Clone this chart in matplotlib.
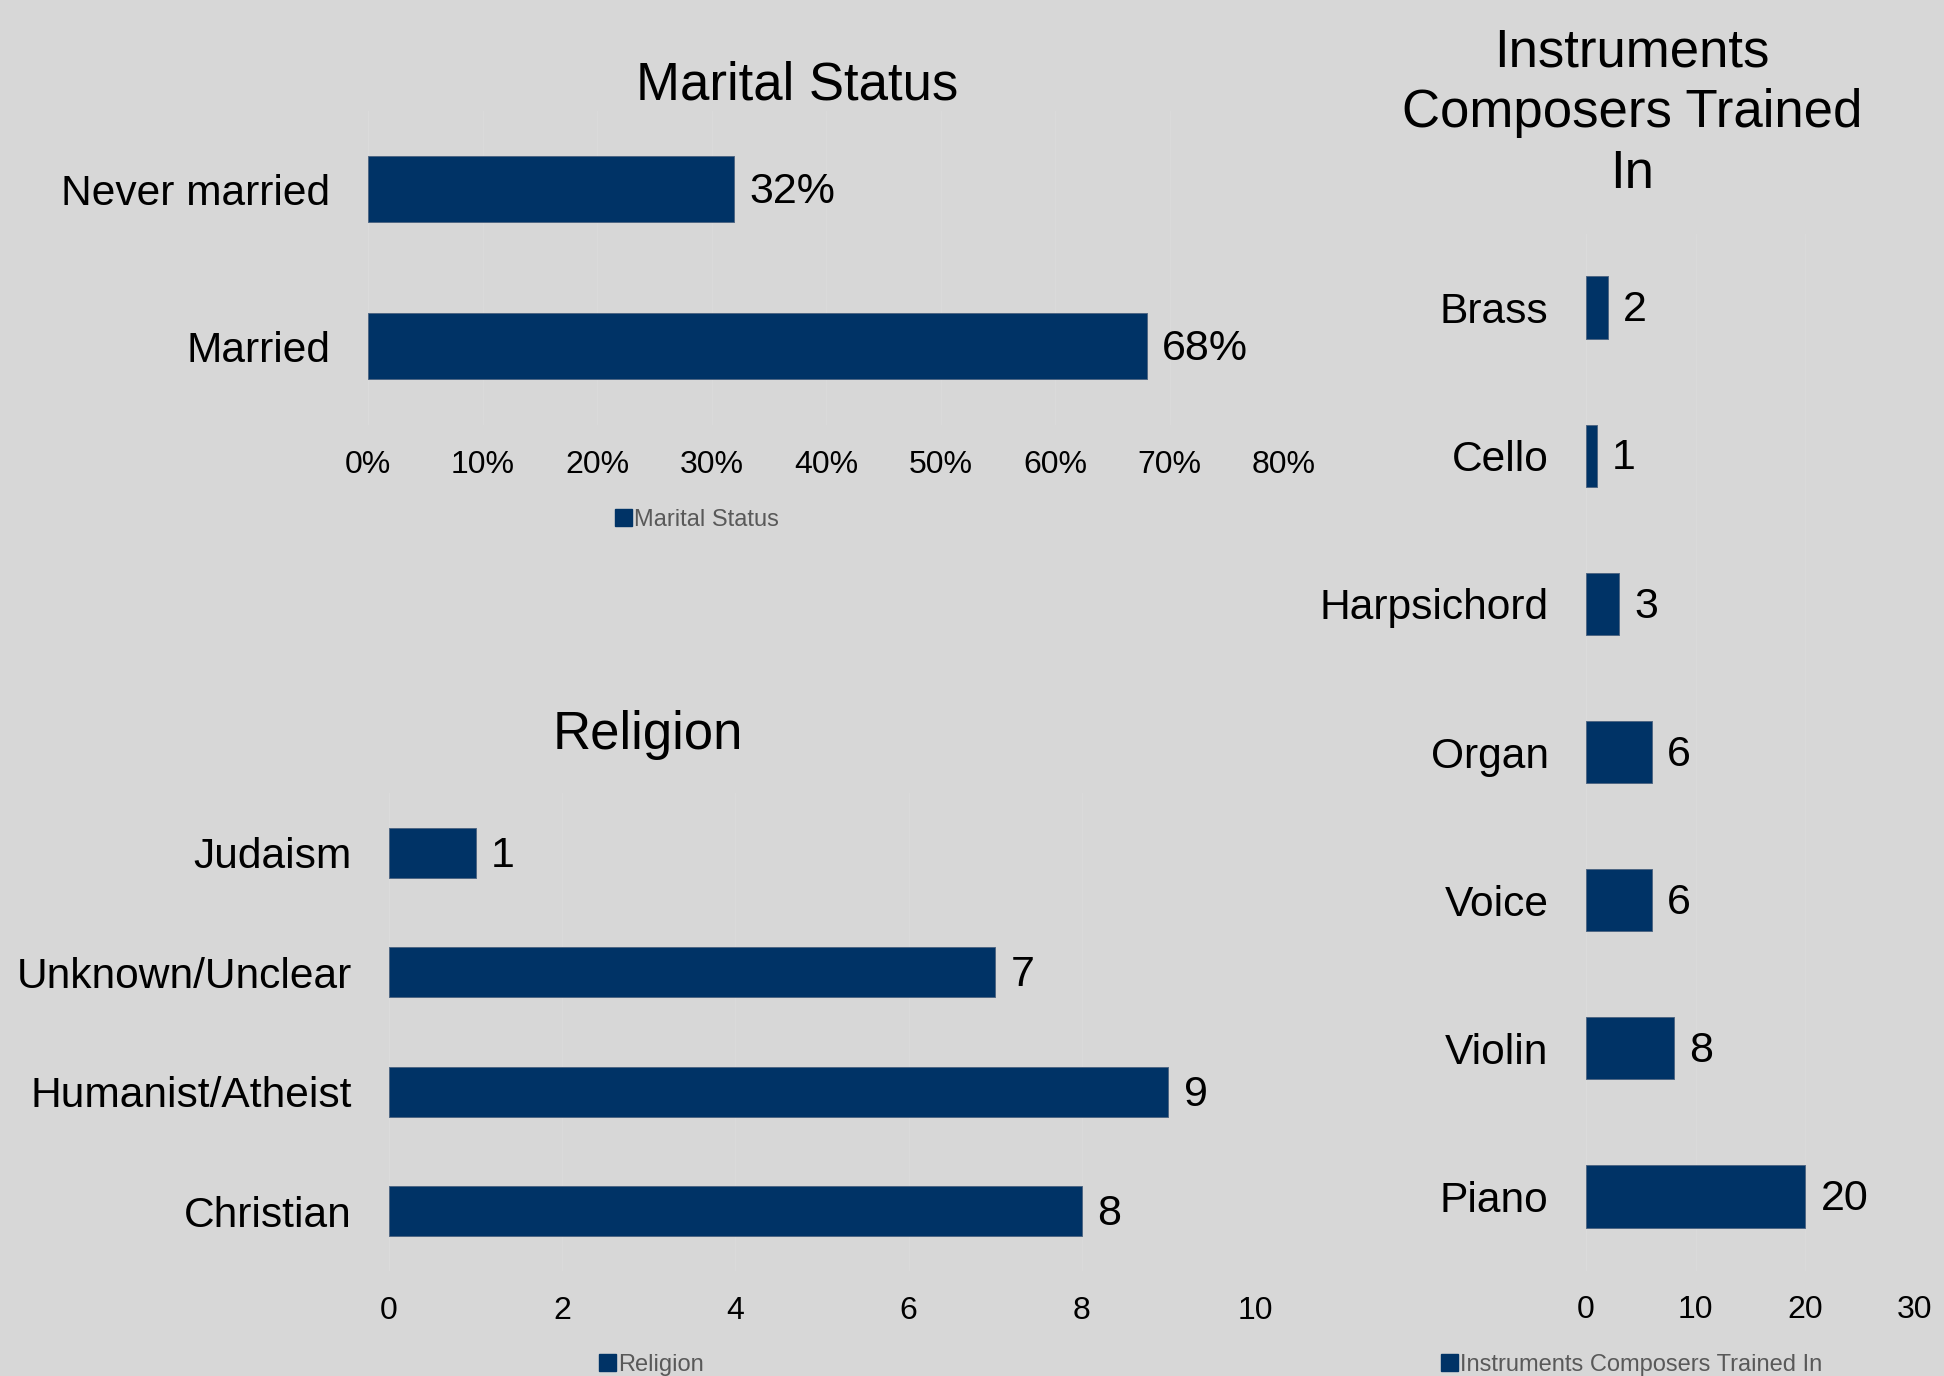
import matplotlib
matplotlib.use("Agg")
import matplotlib.pyplot as plt
from matplotlib.patches import Rectangle
from matplotlib.ticker import FuncFormatter

# ---- data ----
marital_cats = ["Never married", "Married"]
marital_vals = [0.32, 0.68]
marital_ticks = [0, 0.1, 0.2, 0.3, 0.4, 0.5, 0.6, 0.7, 0.8]

religion_cats = ["Judaism", "Unknown/Unclear", "Humanist/Atheist", "Christian"]
religion_vals = [1, 7, 9, 8]
religion_ticks = [0, 2, 4, 6, 8, 10]

instr_cats = ["Brass", "Cello", "Harpsichord", "Organ", "Voice", "Violin", "Piano"]
instr_vals = [2, 1, 3, 6, 6, 8, 20]
instr_ticks = [0, 10, 20, 30]

# ---- style ----
W, H = 1944, 1376
DPI = 100
BG = "#d7d7d7"
BAR = "#003366"
GRID = "#dadada"
FONT = ["Liberation Sans", "DejaVu Sans"]
plt.rcParams["font.family"] = FONT

fig = plt.figure(figsize=(W / DPI, H / DPI), dpi=DPI, facecolor=BG)


def add_ax(left, top, right, bottom):
    return fig.add_axes([left / W, 1 - bottom / H, (right - left) / W, (bottom - top) / H])


def style_bar(ax, cats, vals, ticks, xmax, fmt_label, fmt_tick):
    ax.set_facecolor(BG)
    n = len(cats)
    ypos = list(range(n))
    ax.barh(ypos, vals, height=0.42, color=BAR, edgecolor="#4f6784", linewidth=0.7, zorder=3)
    ax.set_ylim(n - 0.5, -0.5)
    ax.set_xlim(0, xmax)
    ax.set_yticks(ypos)
    ax.set_yticklabels(cats, fontsize=30.6, color="black")
    ax.set_xticks(ticks)
    ax.xaxis.set_major_formatter(FuncFormatter(lambda v, p: fmt_tick(v)))
    ax.tick_params(axis="y", length=0, pad=27)
    ax.tick_params(axis="x", length=0, pad=18, labelsize=23, labelcolor="black")
    for s in ax.spines.values():
        s.set_visible(False)
    ax.axvline(0, color="#dcdcdc", lw=1.2, zorder=2)
    ax.grid(axis="x", color=GRID, lw=1, zorder=0)
    ax.set_axisbelow(True)
    for y, v in zip(ypos, vals):
        ax.annotate(fmt_label(v), (v, y), xytext=(11, -2), textcoords="offset points",
                    ha="left", va="center", fontsize=31, color="black")


def add_legend(ax, label, x_px, y_px):
    h = Rectangle((0, 0), 1, 1, facecolor=BAR, edgecolor=BAR)
    ax.legend([h], [label], loc="center left", bbox_to_anchor=(x_px / W, 1 - y_px / H),
              bbox_transform=fig.transFigure, frameon=False, fontsize=17,
              labelcolor="#595959", handlelength=0.7, handleheight=0.7,
              handletextpad=0.1, borderpad=0, borderaxespad=0)


# Marital Status
ax1 = add_ax(368, 110.5, 1284, 425)
style_bar(ax1, marital_cats, marital_vals, marital_ticks, 0.8,
          lambda v: f"{v:.0%}", lambda v: f"{v:.0%}")
fig.text(797 / W, 1 - 86 / H, "Marital Status", ha="center", va="center", fontsize=38)
add_legend(ax1, "Marital Status", 615, 520)

# Religion
ax2 = add_ax(389, 793, 1255, 1271)
style_bar(ax2, religion_cats, religion_vals, religion_ticks, 10,
          lambda v: f"{v}", lambda v: f"{v:g}")
fig.text(648 / W, 1 - 735 / H, "Religion", ha="center", va="center", fontsize=38)
add_legend(ax2, "Religion", 599, 1365)

# Instruments
ax3 = add_ax(1586, 233.5, 1915, 1270.5)
style_bar(ax3, instr_cats, instr_vals, instr_ticks, 30,
          lambda v: f"{v}", lambda v: f"{v:g}")
fig.text(1632 / W, 1 - 113 / H, "Instruments\nComposers Trained\nIn", ha="center",
         va="center", fontsize=38, linespacing=1.27)
add_legend(ax3, "Instruments Composers Trained In", 1441, 1365)

fig.savefig("out.png", dpi=DPI, facecolor=BG)
